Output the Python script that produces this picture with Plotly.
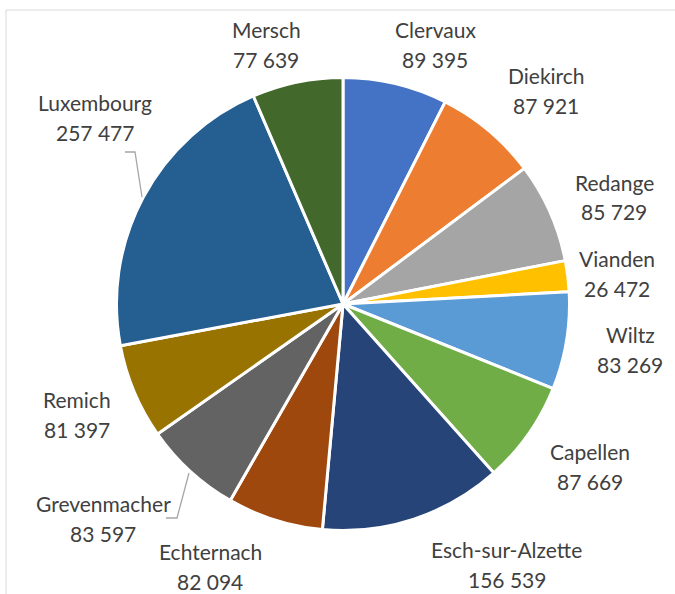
import plotly.graph_objects as go

cantons = ["Clervaux", "Diekirch", "Redange", "Vianden", "Wiltz", "Capellen",
           "Esch-sur-Alzette", "Echternach", "Grevenmacher", "Remich",
           "Luxembourg", "Mersch"]
values = [89395, 87921, 85729, 26472, 83269, 87669,
          156539, 82094, 83597, 81397, 257477, 77639]
colors = ["#4472C4", "#ED7D31", "#A5A5A5", "#FFC000", "#5B9BD5", "#70AD47",
          "#264478", "#9E480E", "#636363", "#997300", "#255E91", "#43682B"]

# data-label box centres (pixels, like Excel's placed labels)
label_pos = [(435, 45), (546, 90), (614, 197), (617, 273), (630, 349), (590, 466),
             (507, 564), (210, 566), (103, 518), (77, 414), (95, 117), (266, 45)]

W, H = 675, 594
cx, cy, r = 343, 304, 226.5
FONT = dict(family="Lato", size=21, color="#404040")


def px(x, y):
    return x / W, 1 - y / H


def fmt(v):
    return f"{v:,}".replace(",", " ")


fig = go.Figure(go.Pie(
    labels=cantons,
    values=values,
    sort=False,
    direction="clockwise",
    rotation=0,
    marker=dict(colors=colors, line=dict(color="white", width=3)),
    textinfo="none",
    hoverinfo="label+value",
    showlegend=False,
    domain=dict(x=[(cx - r) / W, (cx + r) / W],
                y=[(H - cy - r) / H, (H - cy + r) / H]),
))

annotations = []
for name, v, (lx, ly) in zip(cantons, values, label_pos):
    for txt, yy in ((name, ly - 15), (fmt(v), ly + 15)):
        ax, ay = px(lx, yy)
        annotations.append(dict(text=txt, x=ax, y=ay, xref="paper", yref="paper",
                                xanchor="center", yanchor="middle",
                                showarrow=False, font=FONT))

shapes = [dict(type="rect", xref="paper", yref="paper",
               x0=6 / W, x1=1.02, y0=-0.02, y1=1 - 10 / H,
               line=dict(color="#D9D9D9", width=1), fillcolor="rgba(0,0,0,0)")]

# leader lines for moved labels (Luxembourg, Grevenmacher)
for pts in ([(125, 152), (135, 152), (142, 197)],
            [(166, 518), (177, 518), (189, 473)]):
    path = "M " + " L ".join(f"{px(x, y)[0]},{px(x, y)[1]}" for x, y in pts)
    shapes.append(dict(type="path", xref="paper", yref="paper", path=path,
                       line=dict(color="#A6A6A6", width=1.3)))

fig.update_layout(
    width=W, height=H,
    margin=dict(l=0, r=0, t=0, b=0),
    paper_bgcolor="white",
    annotations=annotations,
    shapes=shapes,
)

fig.write_html("out.html",
               config={"displayModeBar": False},
               post_script="document.body.style.margin='0';document.body.style.padding='0';")
